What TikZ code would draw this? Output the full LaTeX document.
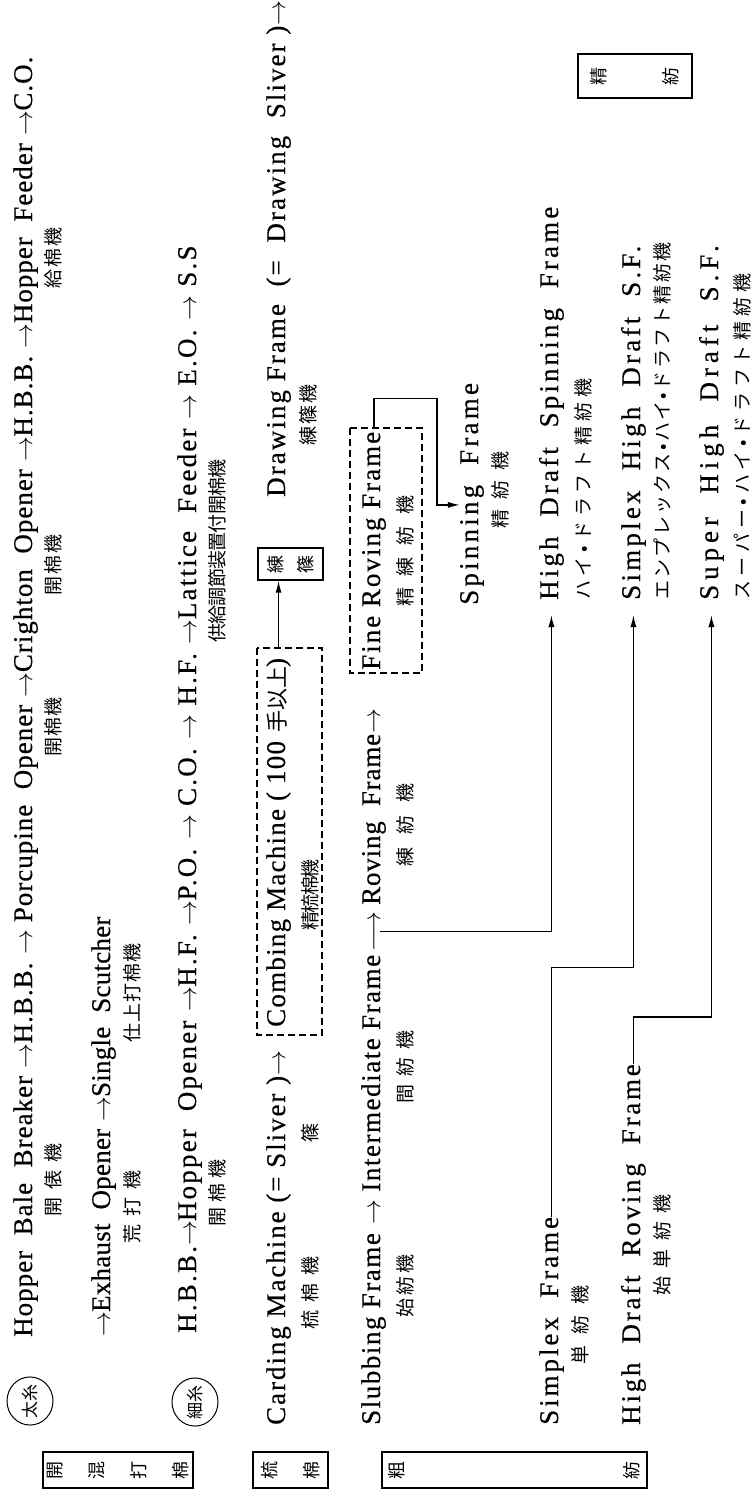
\documentclass[tikz,border=0pt]{standalone}
\usepackage{fontspec}
\setmainfont{Liberation Serif}
\newfontfamily\jpfont{Noto Sans CJK JP}
\usepackage{tikz}
\usetikzlibrary{arrows.meta,shapes.geometric}

\begin{document}
\begin{tikzpicture}[x=1pt,y=1pt,>=Latex,
  latinrow/.style={anchor=base west,inner sep=0pt,rotate=90,
    font={\fontsize{27}{30}\selectfont\addfontfeatures{LetterSpace=#1,FakeBold=0.4}}},
  jlab/.style={inner sep=0pt,rotate=90,
    font={\jpfont\fontsize{19}{19}\selectfont\addfontfeatures{LetterSpace=#1}}},
  labbox/.style={draw,line width=1.4pt,rotate=90,inner sep=0pt,align=center},
  dbox/.style={draw,dash pattern=on 7pt off 4pt,line width=1.2pt,rotate=90,inner sep=0pt},
  yarn/.style={ellipse,draw,line width=1pt,rotate=90,inner sep=0pt,
    minimum width=40pt,minimum height=46pt,font={\jpfont\fontsize{17}{17}\selectfont}},
  conn/.style={-{Latex[length=12pt,width=6pt]},line width=1.3pt}]
\useasboundingbox (0,0) rectangle (754,-1492);
\fill[white] (0,0) rectangle (754,-1492);

% left hand process boxes
\node[labbox,minimum width=36pt,minimum height=150pt,font={\jpfont\fontsize{18}{42}\selectfont}] (kaikon) at (118,-1470) {開\\混\\打\\棉};
\node[labbox,minimum width=36pt,minimum height=75pt,font={\jpfont\fontsize{18}{42}\selectfont}] (ryumenbox) at (290.5,-1470) {梳\\棉};
\node[labbox,minimum width=36pt,minimum height=265pt,font={\jpfont\fontsize{18}{235}\selectfont}] (sobobox) at (514.5,-1470) {粗\\紡};
\node[labbox,minimum width=44pt,minimum height=114pt,font={\jpfont\fontsize{18}{72}\selectfont}] (seibobox) at (635,-76) {精\\紡};

\node[yarn] (futo) at (30,-1401) {太糸};
\node[yarn] (hoso) at (195,-1402) {細糸};

% opening and scutching
\node[latinrow=3.7] (hbb) at (32,-1337) {Hopper~~Bale~~Breaker $\rightarrow$H.B.B. $\rightarrow$ Porcupine~~Opener $\rightarrow$Crighton~~Opener $\rightarrow$H.B.B. $\rightarrow$Hopper~~Feeder $\rightarrow$C.O.};
\node[jlab=42] (kaihyo) at (53,-1180) {開俵機};
\node[jlab=5] (kaimena) at (53,-727) {開棉機};
\node[jlab=10] (kaimenb) at (53,-565) {開棉機};
\node[jlab=10] (kyumen) at (53,-258) {給棉機};

\node[latinrow=0.9] (exh) at (110,-1337) {$\rightarrow$Exhaust~~Opener $\rightarrow$Single~~Scutcher};
\node[jlab=42] (arauchi) at (132,-1207) {荒打機};
\node[jlab=5] (shiage) at (132,-993) {仕上打棉機};

\node[latinrow=8.2] (hbbc) at (196,-1333) {H.B.B.$\rightarrow$Hopper~~Opener $\rightarrow$H.F. $\rightarrow$P.O. $\rightarrow$ C.O. $\rightarrow$ H.F. $\rightarrow$Lattice~~Feeder $\rightarrow$ E.O. $\rightarrow$ S.S};
\node[jlab=26] (kaimenc) at (217,-1193) {開棉機};
\node[jlab=-4] (kyokyu) at (217,-551) {供給調節装置付開棉機};

% carding, combing, drawing
\node[latinrow=7.2] (card) at (285,-1425) {Carding~Machine~(=~Sliver~)$\rightarrow$};
\node[jlab=42] (ryumen) at (310,-1293) {梳棉機};
\node[jlab=0] (shino) at (310,-1133) {篠};
\node[dbox,minimum width=387pt,minimum height=65pt] (cmb) at (289.5,-841.5) {};
\node[latinrow=4.6] (cmbtext) at (285,-1027) {Combing~Machine~(~100~{\jpfont\fontsize{22}{22}\selectfont 手以上})};
\node[jlab=-10] (seiryu) at (310,-895) {精梳棉機};
\node[labbox,minimum width=32pt,minimum height=65pt,font={\jpfont\fontsize{18}{30}\selectfont}] (rensho) at (290.5,-564) {練\\篠};
\node[latinrow=7.6] (drawf) at (285,-497) {Drawing~Frame~~(=~~Drawing~~Sliver~)$\rightarrow$};
\node[jlab=10] (renjoki) at (308,-415) {練篠機};

% roving
\node[latinrow=5.7] (slub) at (380,-1425) {Slubbing~Frame $\rightarrow$ Intermediate~Frame};
\node[latinrow=0] (arrE) at (380,-952) {$\longrightarrow$};
\node[latinrow=3] (rov) at (380,-905) {Roving~~Frame$\rightarrow$};
\node[jlab=16] (shibo) at (405,-1286) {始紡機};
\node[jlab=42] (kanbo) at (405,-1067) {間紡機};
\node[jlab=68] (renbo) at (405,-825) {練紡機};
\node[dbox,minimum width=245pt,minimum height=72pt] (frbox) at (386,-550.5) {};
\node[latinrow=7.4] (frtext) at (380,-670) {Fine~Roving~Frame};
\node[jlab=63] (seirenbo) at (405,-551) {精練紡機};

\node[latinrow=11.9] (spin) at (478,-605) {Spinning~~Frame};
\node[jlab=53] (seibo) at (500,-490) {精紡機};

\node[latinrow=10.9] (simpF) at (558,-1425) {Simplex~~Frame};
\node[jlab=58] (tanbo) at (580,-1325) {単紡機};
\node[latinrow=10.2] (hdrf) at (640,-1425) {High~~Draft~~Roving~~Frame};
\node[jlab=45] (shitan) at (662,-1245) {始単紡機};

% spinning
\node[latinrow=11.6] (hdsf) at (558,-600) {High~~Draft~~Spinning~~Frame};
\node[jlab=26,anchor=west] (hdjp) at (583,-600) {ハイ•ドラフト精紡機};
\node[latinrow=12] (shdsf) at (640,-600) {Simplex~~High~~Draft~~S.F.};
\node[jlab=13,anchor=west] (sxjp) at (662,-600) {エンプレックス•ハイ•ドラフト精紡機};
\node[latinrow=18.3] (suphd) at (718,-600) {Super~~High~~Draft~~S.F.};
\node[jlab=25,anchor=west] (supjp) at (742,-600) {スーパー•ハイ•ドラフト精紡機};

% connectors
\draw[conn] (cmbtext |- cmb.east) -- (cmbtext |- rensho.west);
\draw[conn] (frtext |- frbox.east) -- ++(0,29) -- ++(63,0) |- ([yshift=-11pt]spin.north);
\draw[conn] (arrE.south) -| ([yshift=-15pt]hdsf.west);
\draw[conn] (simpF.east) -- ++(0,249) -| ([yshift=-15pt]shdsf.west);
\draw[conn] (hdrf.east) -- ++(0,47) -| ([yshift=-15pt]suphd.west);
\end{tikzpicture}
\end{document}
